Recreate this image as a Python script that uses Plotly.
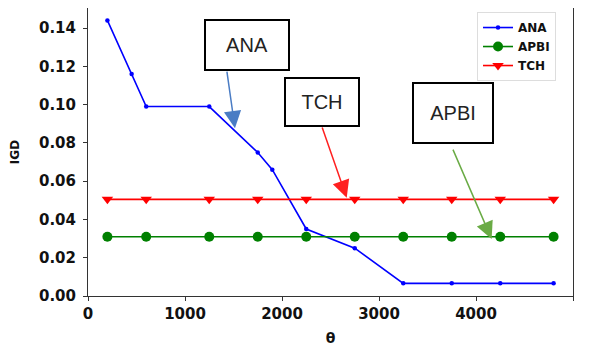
import plotly.graph_objects as go

# data
ana_x = [200, 450, 600, 1250, 1750, 1900, 2250, 2750, 3250, 3750, 4250, 4800]
ana_y = [0.144, 0.116, 0.099, 0.099, 0.075, 0.066, 0.035, 0.025, 0.0066, 0.0066, 0.0066, 0.0066]
base_x = [200, 600, 1250, 1750, 2250, 2750, 3250, 3750, 4250, 4800]
apbi_y = [0.031] * len(base_x)
tch_y = [0.0505] * len(base_x)

x_ticks = [0, 1000, 2000, 3000, 4000, 5000]
y_ticks = [0.00, 0.02, 0.04, 0.06, 0.08, 0.10, 0.12, 0.14]

# annotation boxes: label, center x, center y, width, height
box_labels = ["ANA", "TCH", "APBI"]
box_cx = [1639, 2412, 3763]
box_cy = [0.1311, 0.1013, 0.0955]
box_w = [82, 72, 78]
box_h = [48, 46, 58]
# arrows: tail (x,y) -> tip (x,y)
arr_tail_x = [1430, 2409, 3756]
arr_tail_y = [0.1180, 0.0888, 0.0773]
arr_tip_x = [1515, 2667, 4161]
arr_tip_y = [0.0877, 0.0514, 0.0298]
arr_colors = ["#4a7cc4", "#ff2020", "#6aab45"]

fig = go.Figure()
fig.add_trace(go.Scatter(x=ana_x, y=ana_y, mode="lines+markers", name="ANA",
                         line=dict(color="#0000ff", width=1.6),
                         marker=dict(symbol="circle", size=4.5, color="#0000ff")))
fig.add_trace(go.Scatter(x=base_x, y=apbi_y, mode="lines+markers", name="APBI",
                         line=dict(color="#008000", width=1.6),
                         marker=dict(symbol="circle", size=10, color="#008000")))
fig.add_trace(go.Scatter(x=base_x, y=tch_y, mode="lines+markers", name="TCH",
                         line=dict(color="#ff0000", width=1.6),
                         marker=dict(symbol="triangle-down", size=10, color="#ff0000")))

anns = []
for i in range(3):
    anns.append(dict(x=arr_tip_x[i], y=arr_tip_y[i], xref="x", yref="y",
                     ax=arr_tail_x[i], ay=arr_tail_y[i], axref="x", ayref="y",
                     text="", showarrow=True, arrowhead=2, arrowsize=2.3,
                     arrowwidth=1.5, arrowcolor=arr_colors[i]))
for i in range(3):
    anns.append(dict(x=box_cx[i], y=box_cy[i], xref="x", yref="y",
                     text=box_labels[i], showarrow=False,
                     width=box_w[i], height=box_h[i], borderpad=0,
                     bordercolor="black", borderwidth=2, bgcolor="white",
                     font=dict(family="Liberation Sans", size=20, color="#222")))

axis_common = dict(showline=True, linecolor="#333", linewidth=1, mirror=True,
                   ticks="outside", ticklen=4, tickcolor="#333", showgrid=False,
                   zeroline=False, automargin=False,
                   tickfont=dict(family="DejaVu Sans", size=15, color="#111", weight="bold"))

fig.update_layout(
    width=583, height=338,
    margin=dict(l=80, r=18, t=0, b=50, autoexpand=False),
    paper_bgcolor="white", plot_bgcolor="white",
    xaxis=dict(range=[0, 5000], tickvals=x_ticks,
               title=dict(text="θ", standoff=11,
                          font=dict(family="DejaVu Sans", size=14, color="#111", weight="bold")),
               **axis_common),
    yaxis=dict(range=[0, 0.1505], tickvals=y_ticks, tickformat=".2f",
               ticklabelstandoff=4,
               title=dict(text="IGD", standoff=26,
                          font=dict(family="DejaVu Sans", size=12, color="#111", weight="bold")),
               **axis_common),
    legend=dict(x=0.965, y=0.986, xanchor="right", yanchor="top",
                bgcolor="white", bordercolor="#ddd", borderwidth=1,
                font=dict(family="DejaVu Sans", size=12, color="#111", weight="bold"),
                itemwidth=30, tracegroupgap=0),
    annotations=anns,
    showlegend=True,
)

fig.write_html("out.html")
